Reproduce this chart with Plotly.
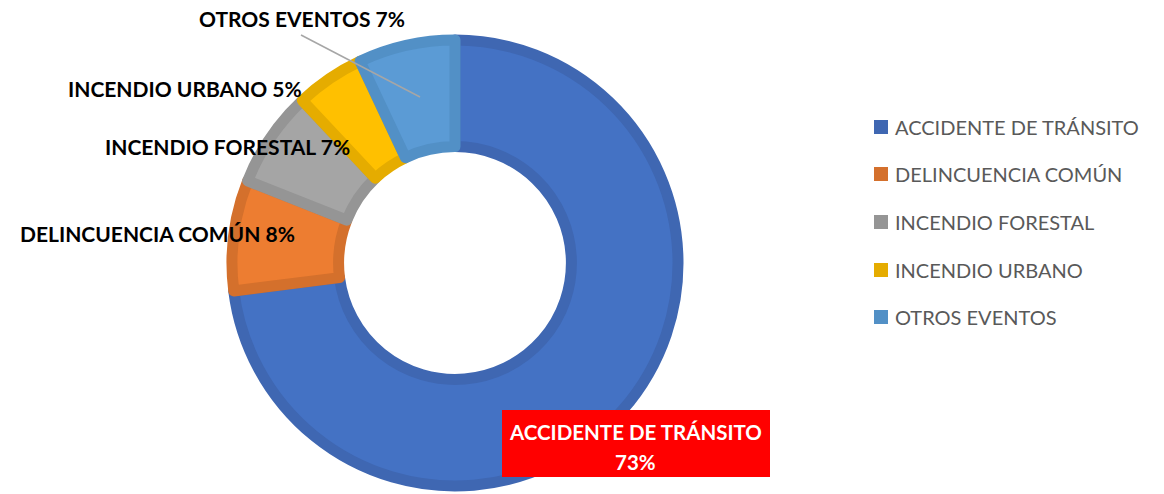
import plotly.graph_objects as go

categories = ["ACCIDENTE DE TRÁNSITO", "DELINCUENCIA COMÚN", "INCENDIO FORESTAL", "INCENDIO URBANO", "OTROS EVENTOS"]
values = [73, 8, 7, 5, 7]
fill_colors = ["#4472C4", "#ED7D31", "#A5A5A5", "#FFC000", "#5B9BD5"]
edge_colors = ["#3F67B2", "#D4702C", "#959595", "#E5AC00", "#5290C6"]

W, H = 1164, 494
cx, cy, r = 455, 263, 223

fig = go.Figure()
fig.add_trace(go.Pie(
    labels=categories, values=values, sort=False, direction="clockwise", rotation=0,
    hole=0.522, textinfo="none", hoverinfo="label+percent",
    marker=dict(colors=fill_colors, line=dict(color=edge_colors, width=11)),
    domain=dict(x=[(cx - r) / W, (cx + r) / W], y=[(H - cy - r) / H, (H - cy + r) / H]),
    showlegend=False,
))

FONT = "Lato"
label_pos = {  # label centre in pixels
    1: (157, 233),
    2: (227, 146),
    3: (185, 88),
    4: (302, 19),
}
ann = []
for i, (px, py) in label_pos.items():
    ann.append(dict(x=px / W, y=1 - py / H, xref="paper", yref="paper", showarrow=False,
                    text=f"<b>{categories[i]} {values[i]}%</b>",
                    font=dict(family=FONT, size=21, color="#000000"), xanchor="center", yanchor="middle"))
# big red label (two lines)
for txt, py in [(categories[0], 432), (f"{values[0]}%", 462)]:
    ann.append(dict(x=636 / W, y=1 - py / H, xref="paper", yref="paper", showarrow=False,
                    text=f"<b>{txt}</b>",
                    font=dict(family=FONT, size=20.5, color="#FFFFFF"), xanchor="center", yanchor="middle"))

shapes = [dict(type="rect", xref="paper", yref="paper", x0=502 / W, x1=770 / W,
               y0=1 - 477 / H, y1=1 - 410 / H, fillcolor="#FF0000", line=dict(width=0), layer="above"),
          # leader line for OTROS EVENTOS
          dict(type="line", xref="paper", yref="paper", x0=301 / W, y0=1 - 35 / H, x1=420 / W, y1=1 - 97 / H,
               line=dict(color="#A6A6A6", width=1.5))]

# custom legend
leg_y = [127, 174, 222, 270, 317]
for i, name in enumerate(categories):
    y = leg_y[i]
    shapes.append(dict(type="rect", xref="paper", yref="paper", x0=874 / W, x1=888 / W,
                       y0=1 - (y + 7) / H, y1=1 - (y - 7) / H, fillcolor=edge_colors[i], line=dict(width=0)))
    ann.append(dict(x=893 / W, y=1 - y / H, xref="paper", yref="paper", showarrow=False, text=name,
                    font=dict(family=FONT, size=20, color="#595959"), xanchor="left", yanchor="middle"))

fig.update_layout(width=W, height=H, margin=dict(l=0, r=0, t=0, b=0),
                  paper_bgcolor="white", plot_bgcolor="white",
                  annotations=ann, shapes=shapes, showlegend=False)
fig.write_html("out.html", config={"displayModeBar": False},
               post_script="document.body.style.margin='0';document.body.style.overflow='hidden';")
